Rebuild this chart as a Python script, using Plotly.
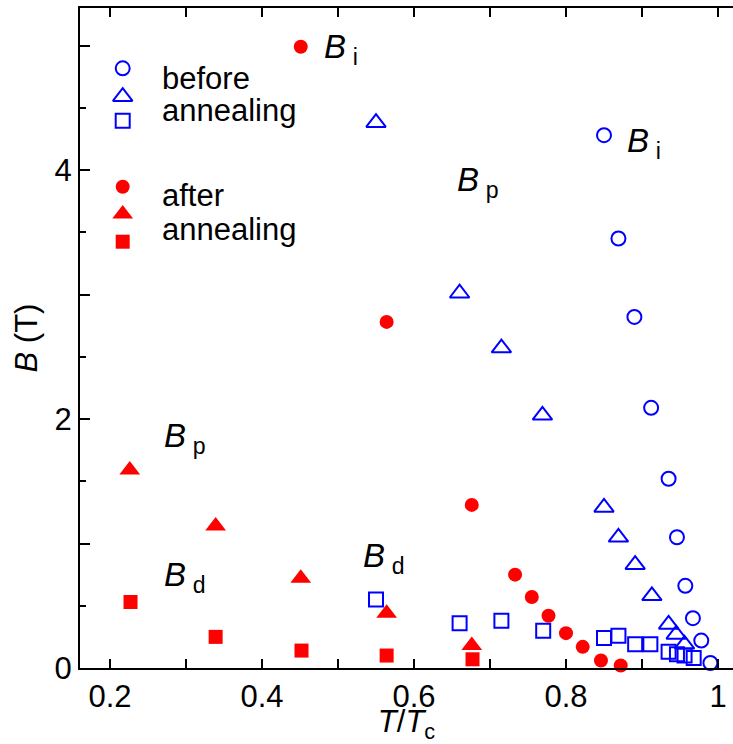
import plotly.graph_objects as go

# ---------------- data ----------------
# before annealing (open blue)
bi_before_x = [0.850, 0.869, 0.890, 0.912, 0.935, 0.946, 0.957, 0.967, 0.978, 0.990]
bi_before_y = [4.28, 3.45, 2.82, 2.09, 1.52, 1.05, 0.66, 0.40, 0.22, 0.04]

bp_before_x = [0.550, 0.660, 0.715, 0.769, 0.850, 0.869, 0.891, 0.913, 0.935, 0.945, 0.956]
bp_before_y = [4.38, 3.01, 2.57, 2.03, 1.29, 1.05, 0.83, 0.58, 0.35, 0.27, 0.19]

bd_before_x = [0.550, 0.660, 0.715, 0.770, 0.850, 0.869, 0.891, 0.911, 0.935, 0.946, 0.956, 0.968]
bd_before_y = [0.55, 0.36, 0.38, 0.30, 0.24, 0.26, 0.19, 0.19, 0.13, 0.11, 0.10, 0.08]

# after annealing (filled red)
bi_after_x = [0.451, 0.564, 0.676, 0.733, 0.755, 0.777, 0.800, 0.822, 0.846, 0.872]
bi_after_y = [4.99, 2.78, 1.31, 0.75, 0.57, 0.42, 0.28, 0.17, 0.06, 0.02]

bp_after_x = [0.226, 0.339, 0.451, 0.564, 0.676]
bp_after_y = [1.59, 1.14, 0.72, 0.44, 0.18]

bd_after_x = [0.227, 0.339, 0.452, 0.564, 0.677]
bd_after_y = [0.53, 0.25, 0.14, 0.10, 0.07]

x_tickvals = [0.2, 0.3, 0.4, 0.5, 0.6, 0.7, 0.8, 0.9, 1.0]
x_ticktext = ["0.2", "", "0.4", "", "0.6", "", "0.8", "", "1"]
y_tickvals = [0, 1, 2, 3, 4, 5]
y_ticktext = ["0", "", "2", "", "4", ""]

# ---------------- styling / layout ----------------
W, H = 733, 744
ML, MR, MT, MB = 80, 0, 8, 76
PW, PH = W - ML - MR, H - MT - MB

def px(xpix):
    return (xpix - ML) / PW

def py(ypix):
    return (H - MB - ypix) / PH

BLUE = "#0000ff"
RED = "#ff0000"
FONT = "Liberation Sans, Arial, sans-serif"
FS = 31

fig = go.Figure()

def open_trace(x, y, symbol, size):
    return go.Scatter(x=x, y=y, mode="markers", cliponaxis=False, showlegend=False,
                      marker=dict(symbol=symbol, size=size, color="rgba(0,0,0,0)",
                                  line=dict(color=BLUE, width=2)))

def filled_trace(x, y, symbol, size):
    return go.Scatter(x=x, y=y, mode="markers", cliponaxis=False, showlegend=False,
                      marker=dict(symbol=symbol, size=size, color=RED,
                                  line=dict(width=0)))

fig.add_trace(open_trace(bi_before_x, bi_before_y, "circle", 14))
fig.add_trace(open_trace(bp_before_x, bp_before_y, "triangle-up", 17))
fig.add_trace(open_trace(bd_before_x, bd_before_y, "square", 14))
fig.add_trace(filled_trace(bi_after_x, bi_after_y, "circle", 14))
fig.add_trace(filled_trace(bp_after_x, bp_after_y, "triangle-up", 18))
fig.add_trace(filled_trace(bd_after_x, bd_after_y, "square", 14))

# legend markers on an overlay axis spanning the plot area (0..1)
leg_x = px(122.7)
leg_open = [("circle", 14, py(68.3)), ("triangle-up", 17, py(96.7)), ("square", 14, py(120.7))]
leg_fill = [("circle", 14, py(186.7)), ("triangle-up", 18, py(213.9)), ("square", 14, py(241.7))]
for sym, sz, yy in leg_open:
    fig.add_trace(go.Scatter(x=[leg_x], y=[yy], xaxis="x2", yaxis="y2", mode="markers",
                             showlegend=False, cliponaxis=False,
                             marker=dict(symbol=sym, size=sz, color="rgba(0,0,0,0)",
                                         line=dict(color=BLUE, width=2))))
for sym, sz, yy in leg_fill:
    fig.add_trace(go.Scatter(x=[leg_x], y=[yy], xaxis="x2", yaxis="y2", mode="markers",
                             showlegend=False, cliponaxis=False,
                             marker=dict(symbol=sym, size=sz, color=RED, line=dict(width=0))))

annotations = []
for text, ycen in [("before", 78), ("annealing", 111), ("after", 195), ("annealing", 230)]:
    annotations.append(dict(text=text, xref="paper", yref="paper", x=px(160), y=py(ycen),
                            xanchor="left", yanchor="middle", showarrow=False,
                            font=dict(family=FONT, size=FS, color="black")))

labels = [("i", 322, 49), ("i", 625, 143), ("p", 455, 182), ("p", 162, 438),
          ("d", 162, 577), ("d", 361, 558)]
for sub, xl, yc in labels:
    annotations.append(dict(text="<i>B</i>\u2009<sub>%s</sub>" % sub,
                            xref="paper", yref="paper",
                            x=px(xl), y=py(yc), xanchor="left", yanchor="middle",
                            showarrow=False,
                            font=dict(family=FONT, size=33, color="black")))

axis_common = dict(showline=True, linecolor="black", linewidth=2, ticks="inside",
                   tickcolor="black", tickwidth=2, showgrid=False, zeroline=False,
                   tickfont=dict(family=FONT, size=FS, color="black"))

fig.update_layout(
    width=W, height=H,
    margin=dict(l=ML, r=MR, t=MT, b=MB, pad=0),
    paper_bgcolor="white", plot_bgcolor="white",
    xaxis=dict(range=[0.2 - 30 / 760, 0.2 - 30 / 760 + PW / 760],
               tickmode="array", tickvals=x_tickvals, ticktext=x_ticktext,
               ticklen=9, mirror="ticks",
               title=dict(text="<i>T</i>/<i>T</i><sub>c</sub>", standoff=4,
                          font=dict(family=FONT, size=FS, color="black")),
               **axis_common),
    yaxis=dict(range=[0, PH / 124.5],
               tickmode="array", tickvals=y_tickvals, ticktext=y_ticktext,
               ticklen=10,
               minor=dict(ticks="inside", dtick=0.5, ticklen=6, tickwidth=2, tickcolor="black"),
               title=dict(text="<i>B</i> (T)", standoff=8,
                          font=dict(family=FONT, size=FS, color="black")),
               **axis_common),
    xaxis2=dict(overlaying="x", range=[0, 1], visible=False),
    yaxis2=dict(overlaying="y", range=[0, 1], visible=False),
    annotations=annotations,
)

fig.write_html("out.html")
